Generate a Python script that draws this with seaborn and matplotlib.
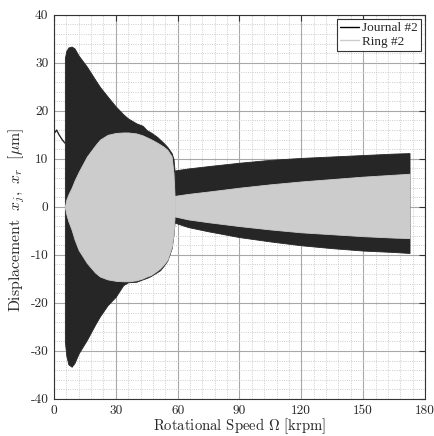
import numpy as np
import matplotlib
matplotlib.use("Agg")
import matplotlib.pyplot as plt
import seaborn as sns
from matplotlib.lines import Line2D
from matplotlib.ticker import MultipleLocator

# --- Envelopes (speed in krpm, displacement in um) ---
# below the first jump only a thin journal trace exists
speed_start = [0.5, 1.3, 2.5, 4.0, 5.3]
journal_start = [15.5, 16.0, 15.0, 14.0, 13.3]

# first regime: large whirl, up to ~58.5 krpm
speed_a = [5.3, 6.0, 7.0, 8.6, 10, 12, 16, 20, 22.3, 26, 30, 33.6, 36, 40, 43,
           45, 47, 50, 51.5, 53, 55, 57.1, 58.0, 58.5]
journal_up_a = [31.0, 32.5, 33.2, 33.4, 33.0, 31.5, 29.2, 26.5, 25.0, 23.0, 20.9, 19.3,
                18.4, 17.4, 16.9, 16.0, 15.5, 14.6, 14.0, 13.4, 12.5, 11.2, 10.0, 7.6]
journal_lo_a = [-28.0, -31.0, -32.8, -33.3, -32.5, -30.5, -27.7, -24.5, -22.8, -20.5,
                -18.7, -16.3, -15.7, -15.6, -15.1, -14.8, -14.4, -13.6, -13.2, -12.4,
                -11.2, -8.6, -5.8, -3.3]
ring_up_a = [0.0, 1.5, 2.6, 4.0, 5.5, 7.3, 10.5, 12.8, 14.0, 15.0, 15.4, 15.5, 15.5,
             15.3, 14.9, 14.5, 14.1, 13.4, 13.0, 12.6, 11.9, 10.5, 7.0, 2.3]
ring_lo_a = [0.0, -1.5, -3.0, -4.8, -6.8, -9.0, -11.7, -13.7, -14.5, -15.1, -15.4,
             -15.5, -15.5, -15.3, -14.9, -14.5, -14.2, -13.3, -12.8, -12.1, -11.0,
             -8.3, -5.5, -2.0]

# second regime: after the drop at ~59 krpm
speed_b = [58.7, 65, 75, 90, 105, 120, 135, 150, 165, 172.5]
journal_up_b = [7.6, 8.0, 8.5, 9.2, 9.8, 10.2, 10.5, 10.8, 11.1, 11.2]
journal_lo_b = [-3.3, -4.2, -5.1, -6.3, -7.2, -8.0, -8.6, -9.1, -9.4, -9.6]
ring_up_b = [2.3, 2.7, 3.2, 4.0, 4.7, 5.3, 5.8, 6.3, 6.7, 6.9]
ring_lo_b = [-2.0, -2.6, -3.2, -4.0, -4.7, -5.3, -5.7, -6.1, -6.4, -6.5]

JOURNAL_C = "#262626"
RING_C = "#cccccc"

sns.set_style("white")
plt.rcParams["font.family"] = ["cmr10", "DejaVu Serif"]
plt.rcParams["mathtext.fontset"] = "cm"
plt.rcParams["axes.unicode_minus"] = False

fig = plt.figure(figsize=(4.35, 4.36), dpi=100)
ax = fig.add_axes([0.124, 0.085, 0.853, 0.881])

# journal bands
for sx, up, lo in [(speed_a, journal_up_a, journal_lo_a), (speed_b, journal_up_b, journal_lo_b)]:
    ax.fill_between(sx, lo, up, color=JOURNAL_C, lw=0.6, edgecolor=JOURNAL_C, zorder=3)
sns.lineplot(x=speed_start, y=journal_start, color=JOURNAL_C, lw=1.0, ax=ax, zorder=3)

# ring bands on top
for sx, up, lo in [(speed_a, ring_up_a, ring_lo_a), (speed_b, ring_up_b, ring_lo_b)]:
    ax.fill_between(sx, lo, up, color=RING_C, lw=0.6, edgecolor=RING_C, zorder=4)

ax.set_xlim(0, 180)
ax.set_ylim(-40, 40)
ax.xaxis.set_major_locator(MultipleLocator(30))
ax.xaxis.set_minor_locator(MultipleLocator(6))
ax.yaxis.set_major_locator(MultipleLocator(10))
ax.yaxis.set_minor_locator(MultipleLocator(2))
ax.grid(True, which="major", color="#a8a8a8", lw=0.8, ls="-", zorder=0)
ax.grid(True, which="minor", color="#c8c8c8", lw=0.6, ls=(0, (1.2, 1.5)), zorder=0)
ax.set_axisbelow(True)

ax.tick_params(which="both", direction="in", top=True, right=True, labelsize=9.6,
               color="#333333")
ax.tick_params(which="major", length=4)
ax.tick_params(which="minor", length=0)
ax.tick_params(axis="x", pad=4)
ax.tick_params(axis="y", pad=4)
for s in ax.spines.values():
    s.set_color("#333333")
    s.set_linewidth(0.8)

ax.set_xlabel(r"Rotational Speed $\Omega$ [krpm]", fontsize=10.6, labelpad=-0.5)
ax.set_ylabel(r"Displacement $\ x_j,\ x_r\ $ [$\mu$m]", fontsize=11.3)
ax.yaxis.set_label_coords(-0.073, 0.465)

handles = [Line2D([], [], color="black", lw=1.0), Line2D([], [], color=RING_C, lw=1.0)]
leg = ax.legend(handles, ["Journal #2", "Ring #2"], loc="upper right",
                prop={"family": "Liberation Serif", "size": 9.5},
                frameon=True, fancybox=False, edgecolor="#333333", framealpha=1,
                handlelength=1.4, handletextpad=0.25, borderpad=0.25, labelspacing=0.1,
                borderaxespad=0.3)
leg.get_frame().set_linewidth(0.8)
leg.set_zorder(10)

fig.savefig("out.png", dpi=100)
